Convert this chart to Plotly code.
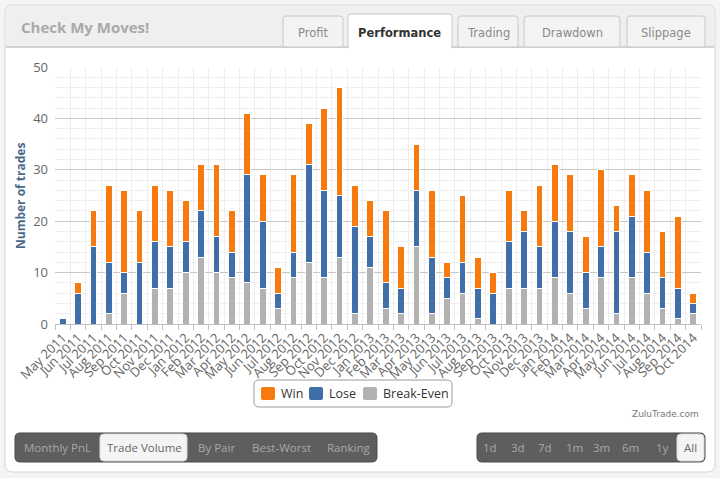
import plotly.graph_objects as go

months = ["May 2011", "Jun 2011", "Jul 2011", "Aug 2011", "Sep 2011", "Oct 2011", "Nov 2011", "Dec 2011",
          "Jan 2012", "Feb 2012", "Mar 2012", "Apr 2012", "May 2012", "Jun 2012", "Jul 2012", "Aug 2012",
          "Sep 2012", "Oct 2012", "Nov 2012", "Dec 2012", "Jan 2013", "Feb 2013", "Mar 2013", "Apr 2013",
          "May 2013", "Jun 2013", "Jul 2013", "Aug 2013", "Sep 2013", "Oct 2013", "Nov 2013", "Dec 2013",
          "Jan 2014", "Feb 2014", "Mar 2014", "Apr 2014", "May 2014", "Jun 2014", "Jul 2014", "Aug 2014",
          "Sep 2014", "Oct 2014"]
break_even = [0, 0, 0, 2, 6, 0, 7, 7, 10, 13, 10, 9, 8, 7, 3, 9, 12, 9, 13, 2, 11,
              3, 2, 15, 2, 5, 6, 1, 0, 7, 7, 7, 9, 6, 3, 9, 2, 9, 6, 3, 1, 2]
lose = [1, 6, 15, 10, 4, 12, 9, 8, 6, 9, 7, 5, 21, 13, 3, 5, 19, 17, 12, 17, 6,
        5, 5, 11, 11, 4, 6, 6, 6, 9, 11, 8, 11, 12, 7, 6, 16, 12, 8, 6, 6, 2]
win = [0, 2, 7, 15, 16, 10, 11, 11, 8, 9, 14, 8, 12, 9, 5, 15, 8, 16, 21, 8, 7,
       14, 8, 9, 13, 3, 13, 6, 4, 10, 4, 12, 11, 11, 7, 15, 5, 8, 12, 9, 14, 2]

series_names = ["Win", "Lose", "Break-Even"]
tabs = ["Profit", "Performance", "Trading", "Drawdown", "Slippage"]
left_buttons = ["Monthly PnL", "Trade Volume", "By Pair", "Best-Worst", "Ranking"]
right_buttons = ["1d", "3d", "7d", "1m", "3m", "6m", "1y", "All"]

colors = {"Win": "#f77a0e", "Lose": "#3f6ea8", "Break-Even": "#b2b2b2"}

W, H = 720, 478
L, R, T, B = 55, 701, 67, 324


def fx(x):
    return (x - L) / (R - L)


def fy(y):
    return (B - y) / (B - T)


def rpath(x0, y0, x1, y1, r, top_only=False):
    rb = 0 if top_only else r
    pts = [("M", x0 + r, y0), ("L", x1 - r, y0), ("Q", x1, y0, x1, y0 + r),
           ("L", x1, y1 - rb), ("Q", x1, y1, x1 - rb, y1), ("L", x0 + rb, y1),
           ("Q", x0, y1, x0, y1 - rb), ("L", x0, y0 + r), ("Q", x0, y0, x0 + r, y0)]
    s = ""
    for p in pts:
        if p[0] == "Q":
            s += "Q%.5f,%.5f %.5f,%.5f " % (fx(p[1]), fy(p[2]), fx(p[3]), fy(p[4]))
        else:
            s += "%s%.5f,%.5f " % (p[0], fx(p[1]), fy(p[2]))
    return s + "Z"


def box(x0, y0, x1, y1, r, fill, line_color, top_only=False, lw=1):
    return dict(type="path", xref="paper", yref="paper", path=rpath(x0, y0, x1, y1, r, top_only),
                fillcolor=fill, line=dict(color=line_color, width=lw), layer="below")


def label(text, x, y, size, color, family="Open Sans", anchor="center", angle=0):
    return dict(text=text, x=fx(x), y=fy(y), xref="paper", yref="paper", xanchor=anchor,
                yanchor="middle", showarrow=False, textangle=angle,
                font=dict(family=family, size=size, color=color))


fig = go.Figure()
fig.add_trace(go.Bar(x=months, y=break_even, name="Break-Even", marker_color=colors["Break-Even"],
                     marker_line=dict(color="white", width=1)))
fig.add_trace(go.Bar(x=months, y=lose, name="Lose", marker_color=colors["Lose"],
                     marker_line=dict(color="white", width=1)))
fig.add_trace(go.Bar(x=months, y=win, name="Win", marker_color=colors["Win"],
                     marker_line=dict(color="white", width=1)))

shapes = []
# outer panel and header
shapes.append(box(5, 5, 715, 472, 8, "white", "#d4d4d4"))
shapes.append(box(6, 6, 714, 47, 7, "#efefef", "rgba(0,0,0,0)", top_only=True, lw=0))
shapes.append(dict(type="line", xref="paper", yref="paper", x0=fx(6), x1=fx(714), y0=fy(47), y1=fy(47),
                   line=dict(color="#c4c4c4", width=1.5), layer="below"))

annotations = [label("<b>Check My Moves!</b>", 19, 27, 15, "#a9a9a9", anchor="left"),
               label("<b>Number of trades</b>", 20, 196, 12, "#4a6a8a", angle=-90)]

tab_pos = [(283, 343), (348, 452), (458, 518), (524, 620), (627, 705)]
for name, (a, b) in zip(tabs, tab_pos):
    active = name == "Performance"
    if active:
        shapes.append(box(a, 14, b, 48, 3, "white", "#c8c8c8", top_only=True))
    else:
        shapes.append(box(a, 16, b, 47, 3, "#f3f3f3", "#c8c8c8", top_only=True))
    annotations.append(label("<b>%s</b>" % name if active else name, (a + b) / 2, 33, 11.5,
                             "#333333" if active else "#8a8a8a", family="DejaVu Sans"))
shapes.append(dict(type="rect", xref="paper", yref="paper", x0=fx(349), x1=fx(451), y0=fy(46), y1=fy(49),
                   fillcolor="white", line=dict(width=0), layer="below"))

# legend box drawn by hand (Highcharts style: small squares, tight spacing)
shapes.append(dict(type="path", xref="paper", yref="paper", path=rpath(254, 380, 452, 407, 5),
                   fillcolor="white", line=dict(color="#9a9a9a", width=1), layer="above"))
legend_x = [261, 309, 363]
for name, lx in zip(series_names, legend_x):
    shapes.append(dict(type="path", xref="paper", yref="paper", path=rpath(lx, 387, lx + 14, 400, 2),
                       fillcolor=colors[name], line=dict(width=0), layer="above"))
    annotations.append(label(name, lx + 18, 393.5, 12.5, "#333333", anchor="left"))

# bottom button bars
shapes.append(box(15, 433, 377, 462, 5, "#5e5e5e", "#4a4a4a"))
shapes.append(box(100, 434, 187, 461, 4, "#f4f4f4", "#dddddd"))
left_x = [57, 144, 216, 281, 349]
for name, cx in zip(left_buttons, left_x):
    sel = name == "Trade Volume"
    annotations.append(label(name, cx, 447.5, 11.5, "#666666" if sel else "#a8a8a8"))

shapes.append(box(477, 433, 705, 462, 5, "#5e5e5e", "#4a4a4a"))
shapes.append(box(677, 434, 704, 461, 4, "#f4f4f4", "#dddddd"))
right_x = [490, 518, 545, 574, 601, 630, 662, 690]
for name, cx in zip(right_buttons, right_x):
    sel = name == "All"
    annotations.append(label(name, cx, 447.5, 11.5, "#666666" if sel else "#a8a8a8"))

annotations.append(label("ZuluTrade.com", 701, 414, 9, "#777777", family="DejaVu Sans", anchor="right"))

fig.update_layout(
    width=W, height=H,
    margin=dict(l=L, r=W - R, t=T, b=H - B, autoexpand=False),
    paper_bgcolor="#f4f4f4",
    plot_bgcolor="rgba(0,0,0,0)",
    barmode="stack",
    bargap=0.56,
    showlegend=False,
    shapes=shapes,
    annotations=annotations,
    font=dict(family="Open Sans", color="#666666"),
    xaxis=dict(type="category", tickmode="array", tickvals=months, ticktext=months, tickangle=-45,
               automargin=False,
               tickfont=dict(size=13, color="#666666"), showgrid=True, gridcolor="#eeeeee",
               tickson="boundaries", ticks="outside", ticklen=5, tickcolor="#c0c0c0",
               showline=True, linecolor="#c0c0c0"),
    yaxis=dict(range=[0, 50], dtick=10, gridcolor="#c8c8c8", zeroline=False, automargin=False,
               tickfont=dict(size=13, color="#666666"), ticklabelstandoff=6,
               minor=dict(dtick=2, showgrid=True, gridcolor="#eeeeee")),
)

# the page body keeps an 8px default margin; drop it so the figure sits at the window corner
fig.write_html("out.html", config={"displayModeBar": False},
               post_script="document.body.style.margin='0px';")
